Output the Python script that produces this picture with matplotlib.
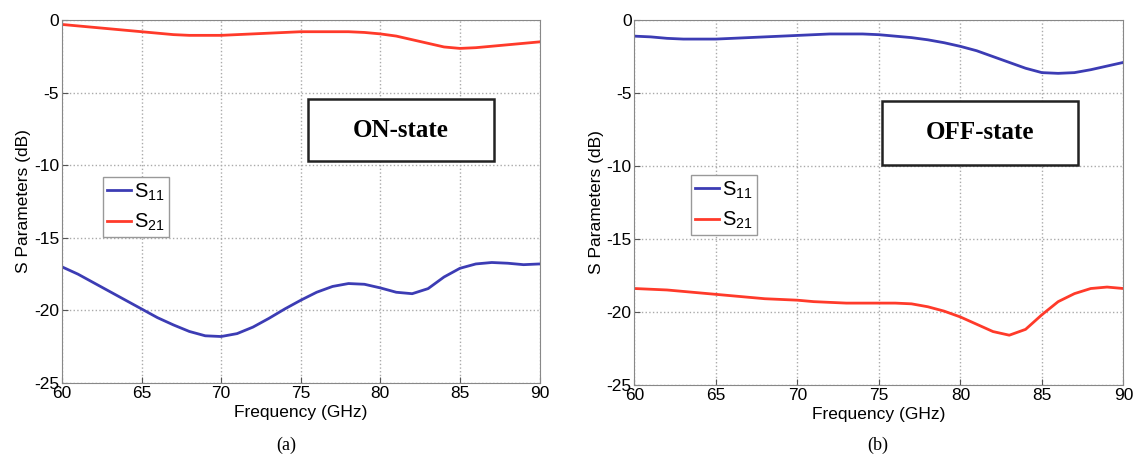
import numpy as np
import matplotlib.pyplot as plt
from matplotlib.patches import Rectangle

# frequency points (GHz)
freq = list(range(60, 91))

# (a) ON-state
on_s11 = [-17.0, -17.5, -18.1, -18.7, -19.3, -19.9, -20.5, -21.0, -21.45, -21.75,
          -21.8, -21.6, -21.15, -20.55, -19.9, -19.3, -18.75, -18.35, -18.15, -18.2,
          -18.45, -18.75, -18.85, -18.5, -17.7, -17.1, -16.8, -16.7, -16.75, -16.85, -16.8]
on_s21 = [-0.3, -0.4, -0.5, -0.6, -0.7, -0.8, -0.9, -1.0, -1.05, -1.05,
          -1.05, -1.0, -0.95, -0.9, -0.85, -0.8, -0.8, -0.8, -0.8, -0.85,
          -0.95, -1.1, -1.35, -1.6, -1.85, -1.95, -1.9, -1.8, -1.7, -1.6, -1.5]

# (b) OFF-state
off_s11 = [-1.1, -1.15, -1.25, -1.3, -1.3, -1.3, -1.25, -1.2, -1.15, -1.1,
           -1.05, -1.0, -0.95, -0.95, -0.95, -1.0, -1.1, -1.2, -1.35, -1.55,
           -1.8, -2.1, -2.5, -2.9, -3.3, -3.6, -3.65, -3.6, -3.4, -3.15, -2.9]
off_s21 = [-18.4, -18.45, -18.5, -18.6, -18.7, -18.8, -18.9, -19.0, -19.1, -19.15,
           -19.2, -19.3, -19.35, -19.4, -19.4, -19.4, -19.4, -19.45, -19.65, -19.95,
           -20.35, -20.85, -21.35, -21.6, -21.2, -20.2, -19.3, -18.75, -18.4, -18.3, -18.4]

xticks = [60, 65, 70, 75, 80, 85, 90]
yticks = [0, -5, -10, -15, -20, -25]

plt.rcParams['font.family'] = ['Liberation Sans', 'DejaVu Sans']
plt.rcParams['axes.unicode_minus'] = False
plt.rcParams['mathtext.fontset'] = 'custom'
plt.rcParams['mathtext.rm'] = 'Liberation Sans'

blue = '#3c3cb4'
red = '#ff3a2a'

fig = plt.figure(figsize=(11.37, 4.57), dpi=100)
ax1 = fig.add_axes([0.0545, 0.162, 0.42, 0.794])
ax2 = fig.add_axes([0.558, 0.158, 0.430, 0.798])

# (axes, s11, s21, state label, box [x0, y0, w, h] in axes coords, legend anchor, subtitle)
panels = [
    (ax1, on_s11, on_s21, 'ON-state', (0.515, 0.612, 0.389, 0.170), (0.086, 0.402)),
    (ax2, off_s11, off_s21, 'OFF-state', (0.507, 0.603, 0.401, 0.175), (0.115, 0.411)),
]

for ax, s11, s21, state, box, lpos in panels:
    ax.plot(freq, s11, color=blue, linewidth=2, label=r'$\mathregular{S_{11}}$')
    ax.plot(freq, s21, color=red, linewidth=2, label=r'$\mathregular{S_{21}}$')
    ax.set_xlim(60, 90)
    ax.set_ylim(-25, 0)
    ax.set_xticks(xticks)
    ax.set_yticks(yticks)
    ax.tick_params(direction='in', labelsize=12.5, length=4, pad=2, color='#555555')
    ax.grid(True, color='#aaaaaa', linestyle=':', linewidth=1)
    for sp in ax.spines.values():
        sp.set_color('#888888')
    ax.set_xlabel('Frequency (GHz)', fontsize=12.5, labelpad=3)
    ax.set_ylabel('S Parameters (dB)', fontsize=12.5, labelpad=2)

    x0, y0, w, h = box
    ax.add_patch(Rectangle((x0, y0), w, h, transform=ax.transAxes, facecolor='white',
                           edgecolor='#222222', linewidth=1.8, zorder=5))
    ax.text(x0 + w / 2, y0 + h / 2, state, transform=ax.transAxes, fontsize=18,
            fontweight='bold', family=['Liberation Serif'], ha='center', va='center',
            zorder=6)

    leg = ax.legend(loc='lower left', bbox_to_anchor=lpos, fontsize=14.5,
                    handlelength=1.2, handletextpad=0.15, borderpad=0.2,
                    labelspacing=0.45, borderaxespad=0, fancybox=False, framealpha=1)
    leg.get_frame().set_edgecolor('#999999')

fig.text(0.252, 0.026, '(a)', fontsize=13, family=['Liberation Serif'], ha='center', va='center')
fig.text(0.772, 0.026, '(b)', fontsize=13, family=['Liberation Serif'], ha='center', va='center')

plt.savefig('out.png', dpi=100)
